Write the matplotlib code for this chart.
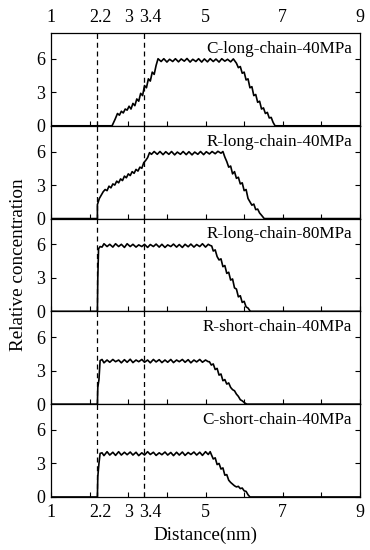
import matplotlib
matplotlib.use('Agg')
import matplotlib.pyplot as plt
from matplotlib.transforms import ScaledTranslation

plt.rcParams['font.family'] = ['Liberation Serif', 'DejaVu Serif']
plt.rcParams['font.size'] = 13

# datos (distancia en nm, concentracion relativa)
x_c_long40 = [1.0, 2.58, 2.66, 2.72, 2.77, 2.82, 2.87, 2.92, 2.97, 3.02, 3.07, 3.12, 3.17,
              3.22, 3.27, 3.32, 3.37, 3.42, 3.47, 3.52, 3.57, 3.62, 3.67, 3.72, 3.77,
              3.85, 3.92, 4.0, 4.07, 4.15, 4.22, 4.3, 4.37, 4.45, 4.52, 4.6, 4.67, 4.75,
              4.82, 4.9, 4.97, 5.05, 5.12, 5.2, 5.27, 5.35, 5.42, 5.5, 5.57, 5.65, 5.72,
              5.8, 5.85, 5.9, 5.95, 6.0, 6.05, 6.1, 6.15, 6.2, 6.25, 6.3, 6.35, 6.4, 6.45,
              6.5, 6.55, 6.6, 6.65, 6.7, 6.75, 6.8, 9.0]
y_c_long40 = [0, 0, 0.6, 1.1, 0.95, 1.3, 1.15, 1.5, 1.4, 1.75, 1.5, 2.0, 1.8,
              2.4, 2.2, 2.9, 2.7, 3.6, 3.4, 4.2, 4.0, 4.8, 4.6, 5.4, 6.0,
              5.75, 6.0, 5.7, 5.95, 5.75, 6.0, 5.72, 5.98, 5.78, 6.02, 5.7, 5.95, 5.75,
              6.0, 5.7, 5.98, 5.72, 6.0, 5.75, 5.97, 5.7, 6.0, 5.78, 5.95, 5.72, 5.98,
              5.6, 5.2, 5.3, 4.7, 4.8, 4.1, 4.2, 3.4, 3.5, 2.7, 2.8, 2.1, 2.2, 1.5,
              1.6, 1.1, 1.2, 0.7, 0.75, 0.3, 0, 0]

x_r_long40 = [1.0, 2.2, 2.2, 2.25, 2.3, 2.35, 2.4, 2.45, 2.5, 2.55, 2.6, 2.65, 2.7, 2.75,
              2.8, 2.85, 2.9, 2.95, 3.0, 3.05, 3.1, 3.15, 3.2, 3.25, 3.3, 3.35, 3.4, 3.45,
              3.5, 3.55, 3.6, 3.67, 3.75, 3.82, 3.9, 3.97, 4.05, 4.12, 4.2, 4.27, 4.35,
              4.42, 4.5, 4.57, 4.65, 4.72, 4.8, 4.87, 4.95, 5.02, 5.1, 5.17, 5.25, 5.32,
              5.4, 5.45, 5.5, 5.55, 5.6, 5.65, 5.7, 5.75, 5.8, 5.85, 5.9, 5.95, 6.0, 6.05,
              6.1, 6.15, 6.2, 6.25, 6.3, 6.35, 6.4, 6.45, 6.52, 9.0]
y_r_long40 = [0, 0, 1.25, 1.8, 2.1, 2.4, 2.6, 2.5, 2.9, 2.75, 3.1, 3.0, 3.35, 3.2,
              3.55, 3.4, 3.8, 3.65, 4.0, 3.85, 4.2, 4.05, 4.4, 4.25, 4.6, 4.5, 5.0, 5.2,
              5.45, 5.9, 5.75, 6.0, 5.75, 6.0, 5.72, 5.98, 5.75, 6.0, 5.7, 5.95, 5.75,
              6.0, 5.72, 5.98, 5.7, 5.95, 5.75, 6.0, 5.72, 5.98, 5.78, 6.0, 5.8, 6.02,
              5.85, 6.0, 5.5, 5.1, 4.6, 4.7, 4.0, 4.2, 3.6, 3.7, 3.1, 3.2, 2.5, 2.6,
              1.8, 1.5, 1.2, 1.3, 0.8, 0.85, 0.5, 0.3, 0, 0]

x_r_long80 = [1.0, 2.2, 2.21, 2.23, 2.27, 2.32, 2.37, 2.45, 2.52, 2.6, 2.67, 2.75, 2.82,
              2.9, 2.97, 3.05, 3.12, 3.2, 3.27, 3.35, 3.42, 3.5, 3.57, 3.65, 3.72, 3.8,
              3.87, 3.95, 4.02, 4.1, 4.17, 4.25, 4.32, 4.4, 4.47, 4.55, 4.62, 4.7, 4.77,
              4.85, 4.92, 5.0, 5.07, 5.12, 5.16, 5.2, 5.25, 5.3, 5.35, 5.4, 5.45, 5.5,
              5.55, 5.6, 5.65, 5.7, 5.75, 5.8, 5.85, 5.9, 5.95, 6.0, 6.05, 6.1, 6.16, 9.0]
y_r_long80 = [0, 0, 3.0, 5.6, 5.8, 5.75, 6.05, 5.8, 6.0, 5.75, 6.05, 5.8, 6.0,
              5.72, 6.05, 5.8, 6.0, 5.75, 5.95, 5.8, 6.0, 5.72, 5.98, 5.8, 6.02, 5.75,
              6.0, 5.72, 5.95, 5.8, 6.02, 5.75, 5.98, 5.72, 6.0, 5.78, 6.02, 5.75, 5.98,
              5.8, 6.05, 5.75, 6.0, 5.9, 5.85, 5.4, 5.5, 4.9, 4.6, 4.7, 4.0, 4.1,
              3.4, 3.5, 2.8, 2.9, 2.1, 2.0, 1.3, 1.4, 0.8, 0.9, 0.4, 0.3, 0, 0]

x_r_short40 = [1.0, 2.2, 2.21, 2.24, 2.27, 2.32, 2.37, 2.45, 2.52, 2.6, 2.67, 2.75, 2.82,
               2.9, 2.97, 3.05, 3.12, 3.2, 3.27, 3.35, 3.42, 3.5, 3.57, 3.65, 3.72, 3.8,
               3.87, 3.95, 4.02, 4.1, 4.17, 4.25, 4.32, 4.4, 4.47, 4.55, 4.62, 4.7, 4.77,
               4.85, 4.92, 5.0, 5.07, 5.1, 5.15, 5.2, 5.25, 5.3, 5.35, 5.4, 5.45, 5.5,
               5.55, 5.6, 5.65, 5.7, 5.75, 5.8, 5.85, 5.9, 5.95, 6.02, 6.07, 9.0]
y_r_short40 = [0, 0, 1.5, 2.2, 3.9, 4.0, 3.7, 3.95, 3.75, 4.0, 3.8, 3.95, 3.7,
               3.98, 3.75, 4.02, 3.72, 3.95, 3.8, 4.0, 3.75, 3.95, 3.7, 4.0, 3.78, 3.98,
               3.72, 3.95, 3.75, 4.0, 3.72, 3.95, 3.8, 4.0, 3.75, 3.98, 3.7, 3.95, 3.78,
               4.0, 3.75, 3.95, 3.8, 3.8, 3.5, 3.6, 3.1, 3.2, 2.6, 2.7, 2.1, 2.2,
               1.8, 1.9, 1.5, 1.3, 1.2, 0.9, 0.7, 0.4, 0.3, 0.1, 0, 0]

x_c_short40 = [1.0, 2.2, 2.21, 2.24, 2.27, 2.32, 2.37, 2.45, 2.52, 2.6, 2.67, 2.75, 2.82,
               2.9, 2.97, 3.05, 3.12, 3.2, 3.27, 3.35, 3.42, 3.5, 3.57, 3.65, 3.72, 3.8,
               3.87, 3.95, 4.02, 4.1, 4.17, 4.25, 4.32, 4.4, 4.47, 4.55, 4.62, 4.7, 4.77,
               4.85, 4.92, 5.0, 5.07, 5.12, 5.15, 5.2, 5.25, 5.3, 5.35, 5.4, 5.45, 5.5,
               5.55, 5.6, 5.65, 5.7, 5.75, 5.8, 5.85, 5.9, 5.95, 6.0, 6.05, 6.1, 6.15, 9.0]
y_c_short40 = [0, 0, 1.8, 3.0, 3.9, 3.95, 3.7, 4.05, 3.75, 4.0, 3.72, 4.05, 3.75,
               4.0, 3.78, 4.02, 3.75, 4.0, 3.7, 3.95, 3.75, 4.05, 3.8, 4.0, 3.72, 3.95,
               3.78, 4.02, 3.75, 3.98, 3.7, 4.0, 3.75, 4.02, 3.72, 3.98, 3.8, 4.02, 3.75,
               4.0, 3.72, 4.05, 3.8, 4.05, 3.8, 3.4, 3.5, 2.9, 3.0, 2.5, 2.6, 1.95,
               2.0, 1.5, 1.3, 1.15, 1.0, 0.9, 0.95, 0.75, 0.8, 0.55, 0.5, 0.2, 0, 0]

series = [
    ('C-long-chain-40MPa', x_c_long40, y_c_long40),
    ('R-long-chain-40MPa', x_r_long40, y_r_long40),
    ('R-long-chain-80MPa', x_r_long80, y_r_long80),
    ('R-short-chain-40MPa', x_r_short40, y_r_short40),
    ('C-short-chain-40MPa', x_c_short40, y_c_short40),
]

x_ticks = [1, 2, 2.2, 3, 3.4, 4, 5, 6, 7, 8, 9]
x_tick_labels = ['1', '', '2.2', '3', '3.4', '', '5', '', '7', '', '9']
y_ticks = [0, 3, 6]
marcas = [2.2, 3.4]

fig, axes = plt.subplots(5, 1, figsize=(3.7, 5.5), dpi=100, sharex=True)
fig.subplots_adjust(left=0.138, right=0.973, top=0.94, bottom=0.0964, hspace=0)

for i, (nombre, xs, ys) in enumerate(series):
    ax = axes[i]
    ax.plot(xs, ys, color='black', lw=1.2)
    for m in marcas:
        ax.axvline(m, color='black', lw=0.9, ls=(0, (4, 3)))
    ax.set_xlim(1, 9)
    ax.set_ylim(0, 8.3)
    ax.set_yticks(y_ticks)
    ax.set_xticks(x_ticks)
    ax.set_xticklabels(x_tick_labels)
    ax.tick_params(axis='y', direction='in', length=3.5, width=0.8, right=True,
                   labelsize=13, pad=4)
    ax.tick_params(axis='x', direction='in', length=3.5, width=0.8, labelsize=13,
                   labelbottom=(i == 4), top=False, labeltop=(i == 0), pad=5)
    ax.text(0.974, 0.83, nombre, transform=ax.transAxes, ha='right', va='center', fontsize=12.3)
    for s in ax.spines.values():
        s.set_linewidth(0.9)

# separar un poco las etiquetas 2.2 y 3.4 como en el original
for ax in [axes[0], axes[4]]:
    ticks = ax.xaxis.get_major_ticks()
    for idx, dx in [(2, 3 / 100), (4, 7 / 100)]:
        off = ScaledTranslation(dx, 0, fig.dpi_scale_trans)
        for lab in (ticks[idx].label1, ticks[idx].label2):
            lab.set_transform(lab.get_transform() + off)

fig.text(0.05, 0.518, 'Relative concentration', rotation=90, ha='center', va='center', fontsize=13.8)
fig.text(0.555, 0.026, 'Distance(nm)', ha='center', va='center', fontsize=13.8)

plt.savefig('out.png', dpi=100)
